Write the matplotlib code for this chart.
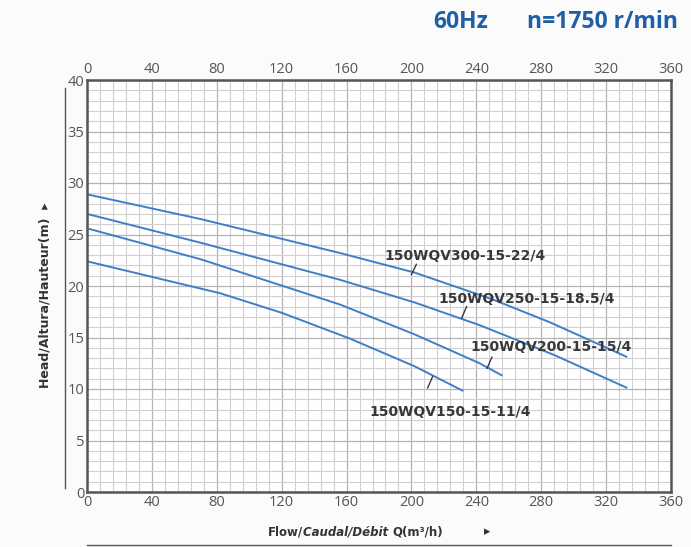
import matplotlib.pyplot as plt

# Pump curves (flow m3/h, head m)
models = ['150WQV300-15-22/4', '150WQV250-15-18.5/4', '150WQV200-15-15/4', '150WQV150-15-11/4']
q_300 = [0, 70, 156, 202, 250, 285, 333]
h_300 = [28.9, 26.5, 23.2, 21.3, 18.7, 16.5, 13.1]
q_250 = [0, 70, 156, 202, 242, 288, 333]
h_250 = [27.0, 24.2, 20.6, 18.4, 16.2, 13.3, 10.1]
q_200 = [0, 70, 156, 202, 242, 256]
h_200 = [25.6, 22.6, 18.2, 15.3, 12.5, 11.3]
q_150 = [0, 37, 82, 120, 162, 202, 232]
h_150 = [22.4, 21.0, 19.3, 17.4, 14.9, 12.2, 9.8]

x_ticks = list(range(0, 361, 40))
y_ticks = list(range(0, 41, 5))

fig = plt.figure(figsize=(6.91, 5.47), dpi=100)
fig.patch.set_facecolor('#fbfbfb')
ax = fig.add_axes([87 / 691, 55 / 547, 584 / 691, 412 / 547])
ax.set_facecolor('white')

ax.set_xlim(0, 360)
ax.set_ylim(0, 40)
ax.set_xticks(x_ticks)
ax.set_yticks(y_ticks)
ax.set_xticks(range(0, 361, 8), minor=True)
ax.set_yticks(range(0, 41, 1), minor=True)
ax.grid(which='minor', color='#d0d0d0', lw=0.8)
ax.grid(which='major', color='#b4b4b4', lw=0.9)
ax.set_axisbelow(True)
ax.tick_params(which='both', length=0)
ax.tick_params(labeltop=True, labelsize=10.5, labelcolor='#555555', pad=2)
for t in ax.xaxis.get_major_ticks() + ax.yaxis.get_major_ticks():
    t.label1.set_family('Open Sans')
    t.label2.set_family('Open Sans')
for s in ax.spines.values():
    s.set_color('#555555')
    s.set_linewidth(1.8)

blue = '#3d80c8'
curves = [(q_300, h_300), (q_250, h_250), (q_200, h_200), (q_150, h_150)]
for q, h in curves:
    ax.plot(q, h, color=blue, lw=1.4, solid_capstyle='butt')

# model labels and little leader strokes
label_pos = [(233, 22.9), (271, 18.7), (286, 14.1), (224, 7.8)]
leaders = [((200, 21.1), (203, 22.1)), ((231, 16.9), (234, 18.0)),
           ((246.6, 12.0), (249.6, 13.1)), ((210, 10.1), (213, 11.2))]
for name, (x, y), (p0, p1) in zip(models, label_pos, leaders):
    ax.text(x, y, name, ha='center', va='center', fontsize=10,
            fontweight='bold', color='#383838')
    ax.plot([p0[0], p1[0]], [p0[1], p1[1]], color='#383838', lw=1.0)

# titles
fig.text(433 / 691, 1 - 22 / 547, '60Hz', color='#1f5fa8', fontsize=16.5,
         fontweight='bold', family='Open Sans', va='center')
fig.text(678 / 691, 1 - 22 / 547, 'n=1750 r/min', color='#1f5fa8', fontsize=16.5,
         fontweight='bold', family='Open Sans', va='center', ha='right')

# axis labels
fig.text(45 / 691, 1 - 295 / 547, 'Head/Altura/Hauteur(m)  \u25b8', rotation=90,
         fontsize=9, fontweight='bold', color='#333333', ha='center', va='center')
t1 = fig.text(268 / 691, 1 - 532 / 547, 'Flow/', fontsize=8.5, fontweight='bold',
              color='#333333', va='center')
t2 = ax.annotate('Caudal/Débit ', xy=(1, 0.5), xycoords=t1, va='center',
                 fontsize=8.5, fontweight='bold', style='italic', color='#333333')
t3 = ax.annotate('Q(m\u00b3/h)', xy=(1, 0.5), xycoords=t2, va='center',
                 fontsize=8.5, fontweight='bold', color='#333333')
fig.text(487 / 691, 1 - 532 / 547, '\u25b8', fontsize=9, color='#333333',
         va='center', ha='center')

# decorative rules
fig.add_artist(plt.Line2D([65 / 691, 65 / 691], [1 - 88 / 547, 1 - 488 / 547],
                          color='#555555', lw=1.0))
fig.add_artist(plt.Line2D([87 / 691, 671 / 691], [1 - 545 / 547, 1 - 545 / 547],
                          color='#555555', lw=1.0))

fig.savefig('out.png', dpi=100, facecolor=fig.get_facecolor())
